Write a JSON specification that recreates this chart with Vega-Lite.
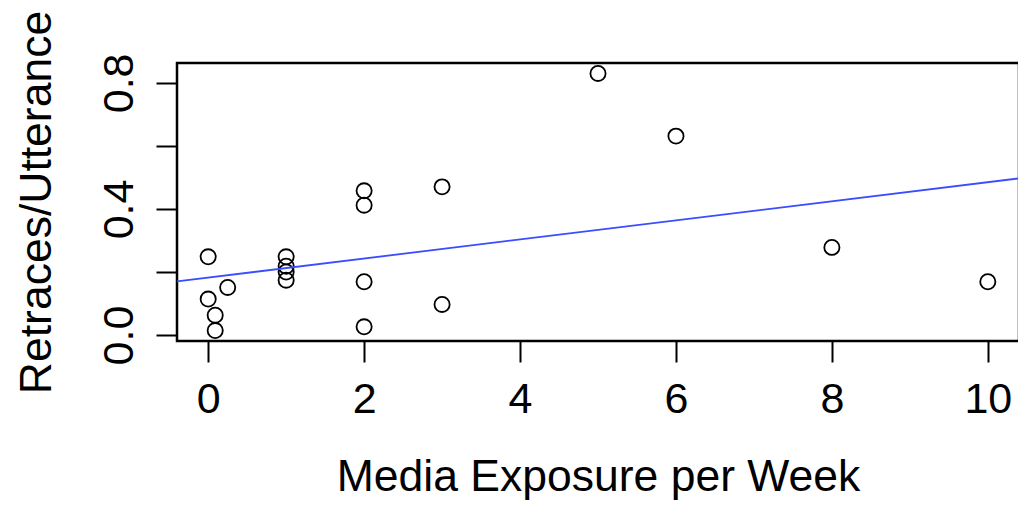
{
  "$schema": "https://vega.github.io/schema/vega-lite/v6.json",
  "width": 842,
  "height": 278,
  "autosize": {"type": "none"},
  "padding": {"left": 177, "top": 63, "right": 0, "bottom": 165},
  "background": "white",
  "config": {
    "view": {"stroke": "black", "strokeWidth": 2.5},
    "font": "Liberation Sans",
    "axis": {
      "grid": false,
      "domain": false,
      "tickColor": "black",
      "tickWidth": 2,
      "tickSize": 21,
      "labelColor": "black",
      "labelFont": "Liberation Sans",
      "labelFontSize": 43,
      "titleFont": "Liberation Sans",
      "titleFontSize": 44.5,
      "titleFontWeight": "normal",
      "titleColor": "black"
    }
  },
  "datasets": {
    "points": [
      {"exposure": 0, "retraces": 0.248},
      {"exposure": 0, "retraces": 0.114},
      {"exposure": 0.09, "retraces": 0.063},
      {"exposure": 0.09, "retraces": 0.014},
      {"exposure": 0.25, "retraces": 0.151},
      {"exposure": 1, "retraces": 0.248},
      {"exposure": 1, "retraces": 0.218},
      {"exposure": 1, "retraces": 0.2},
      {"exposure": 1, "retraces": 0.174},
      {"exposure": 2, "retraces": 0.4575},
      {"exposure": 2, "retraces": 0.412},
      {"exposure": 2, "retraces": 0.169},
      {"exposure": 2, "retraces": 0.026},
      {"exposure": 3, "retraces": 0.47},
      {"exposure": 3, "retraces": 0.097},
      {"exposure": 5, "retraces": 0.83},
      {"exposure": 6, "retraces": 0.631},
      {"exposure": 8, "retraces": 0.278},
      {"exposure": 10, "retraces": 0.169}
    ],
    "fit": [
      {"exposure": -0.4, "retraces": 0.17},
      {"exposure": 10.4, "retraces": 0.497}
    ]
  },
  "layer": [
    {
      "data": {"name": "points"},
      "mark": {"type": "point", "shape": "circle", "filled": false, "stroke": "black", "strokeWidth": 1.8, "size": 230, "opacity": 1},
      "encoding": {
        "x": {
          "field": "exposure",
          "type": "quantitative",
          "scale": {"domain": [-0.4, 10.4], "nice": false, "zero": false},
          "axis": {
            "title": "Media Exposure per Week",
            "values": [0, 2, 4, 6, 8, 10],
            "format": "d",
            "labelPadding": 16,
            "labelBaseline": "top",
            "labelFlush": false,
            "labelOverlap": false,
            "titleY": 149,
            "titleBaseline": "alphabetic"
          }
        },
        "y": {
          "field": "retraces",
          "type": "quantitative",
          "scale": {"domain": [-0.019, 0.863], "nice": false, "zero": false},
          "axis": {
            "title": "Retraces/Utterance",
            "values": [0, 0.2, 0.4, 0.6, 0.8],
            "labelExpr": "(abs(datum.value - 0.2) < 0.01 || abs(datum.value - 0.6) < 0.01) ? '' : format(datum.value, '.1f')",
            "labelAngle": -90,
            "labelAlign": "center",
            "labelBaseline": "alphabetic",
            "labelPadding": 24,
            "labelFlush": false,
            "labelOverlap": false,
            "titleAngle": -90,
            "titleX": -127,
            "titleBaseline": "alphabetic"
          }
        }
      }
    },
    {
      "data": {"name": "fit"},
      "mark": {"type": "line", "color": "#3a4dff", "strokeWidth": 1.8, "clip": true},
      "encoding": {
        "x": {"field": "exposure", "type": "quantitative"},
        "y": {"field": "retraces", "type": "quantitative"}
      }
    }
  ]
}
